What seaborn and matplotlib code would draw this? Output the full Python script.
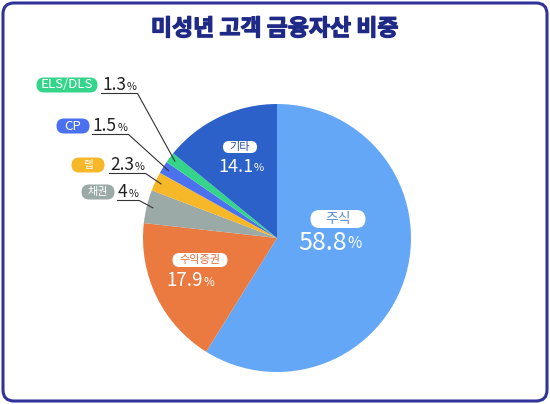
import matplotlib
matplotlib.use("Agg")
import numpy as np
import matplotlib.pyplot as plt
import matplotlib.patheffects as pe
import seaborn as sns
from matplotlib.patches import FancyBboxPatch

# 데이터 (시계방향, 12시부터)
labels = ["주식", "수익증권", "채권", "랩", "CP", "ELS/DLS", "기타"]
shares = [58.8, 17.9, 4, 2.3, 1.5, 1.3, 14.1]
colors = ["#63a7f6", "#ea7a40", "#9ba9a7", "#f6b829", "#4b71ee", "#34d58b", "#2b61c8"]
title = "미성년 고객 금융자산 비중"

W, H = 550, 404


def Y(y):
    # 위에서부터 잰 픽셀 -> 아래가 0인 좌표
    return H - y


sns.set_theme(style="white")
plt.rcParams["font.family"] = ["Noto Sans CJK KR", "DejaVu Sans"]

fig = plt.figure(figsize=(5.5, 4.04), dpi=100)
ax = fig.add_axes([0, 0, 1, 1])
wedges, _ = ax.pie(shares, colors=sns.color_palette(colors), startangle=90,
                   counterclock=False, center=(277, Y(238)), radius=134,
                   wedgeprops=dict(linewidth=0))
ax.set_xlim(0, W)
ax.set_ylim(0, H)
ax.set_aspect("auto")
ax.axis("off")

# 테두리, 제목
ax.add_patch(FancyBboxPatch((3, 3), W - 6, H - 6, boxstyle="round,pad=0,rounding_size=11",
                            fc="none", ec="#30339a", lw=2.2))
ax.text(275, Y(29), title, ha="center", va="center", fontsize=16.5,
        fontweight="black", color="#1f2a87",
        path_effects=[pe.withStroke(linewidth=0.9, foreground="#1f2a87")])


def pill(cx, cy, w, h, text, fc, tc, fs):
    ax.add_patch(FancyBboxPatch((cx - w / 2, Y(cy) - h / 2), w, h,
                                boxstyle=f"round,pad=0,rounding_size={h / 2}",
                                fc=fc, ec="none"))
    ax.text(cx, Y(cy), text, ha="center", va="center", fontsize=fs, color=tc)


def pct_label(x, y, value, fs, color):
    num = ax.text(x, Y(y), f"{value:g}", ha="left", va="center", fontsize=fs, color=color)
    pct = ax.annotate("%", xy=(1, 0), xycoords=num, xytext=(0.5, fs * 0.14),
                      textcoords="offset points", ha="left", va="bottom",
                      fontsize=fs * 0.62, color=color)
    return num, pct


# 조각 안쪽 라벨: 이름 -> (알약 중심, 크기, 글자색, 글자크기, 숫자 위치, 숫자크기)
inside = {
    "주식": ((338, 219), (55, 18), "#5b8fd0", 10, (298, 243), 18),
    "수익증권": ((200, 260), (55, 14), "#e0703a", 8, (166, 281), 13.5),
    "기타": ((240, 147), (34, 12), "#2b4f9e", 8, (218, 167), 13),
}
# 바깥 라벨: 이름 -> (알약 중심, 알약 폭, 글자크기, 숫자 위치)
outside = {
    "ELS/DLS": ((67, 85), 61, 9.5, (102, 85)),
    "CP": ((73, 126), 33, 9.5, (93, 126)),
    "랩": ((88, 165), 33, 7.5, (110, 165)),
    "채권": ((98, 192), 33, 8, (118, 192)),
}

outside_items = []
for lab, val, col, wd in zip(labels, shares, colors, wedges):
    if lab in inside:
        (pc, ps, tc, fs, npos, nfs) = inside[lab]
        pill(pc[0], pc[1], ps[0], ps[1], lab, "white", tc, fs)
        pct_label(npos[0], npos[1], val, nfs, "white")
    else:
        (pc, pw, fs, npos) = outside[lab]
        pill(pc[0], pc[1], pw, 15, lab, col, "white", fs)
        num, pct = pct_label(npos[0], npos[1], val, 12.5, "#222222")
        outside_items.append((num, pct, npos, wd))

# 밑줄 + 지시선
fig.canvas.draw()
r = fig.canvas.get_renderer()
for num, pct, npos, wd in outside_items:
    x0 = num.get_window_extent(r).x0 - 1
    x1 = pct.get_window_extent(r).x1 + 1
    yl = Y(npos[1] + 8.5)
    mid = np.deg2rad((wd.theta1 + wd.theta2) / 2)
    cx, cy = wd.center
    ex = cx + 0.95 * wd.r * np.cos(mid)
    ey = cy + 0.95 * wd.r * np.sin(mid)
    ax.plot([x0, x1, ex], [yl, yl, ey], color="#333333", lw=0.8, solid_capstyle="butt")

fig.savefig("out.png", dpi=100, facecolor="white")
